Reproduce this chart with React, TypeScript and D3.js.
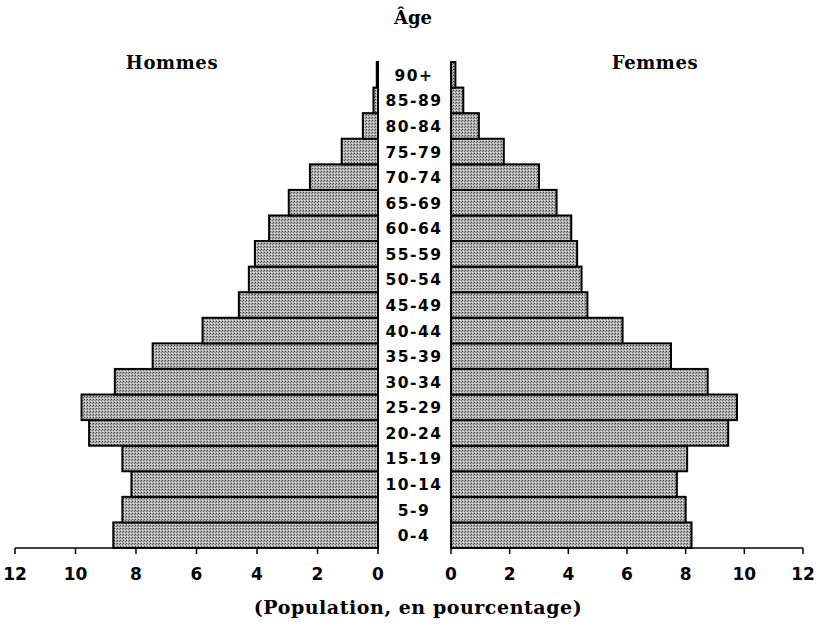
import React from 'react';
import * as d3 from 'd3';

// age groups, bottom to top
const ageGroups = ['0-4', '5-9', '10-14', '15-19', '20-24', '25-29', '30-34', '35-39', '40-44', '45-49', '50-54', '55-59', '60-64', '65-69', '70-74', '75-79', '80-84', '85-89', '90+'];
const hommes = [8.75, 8.45, 8.15, 8.45, 9.55, 9.8, 8.7, 7.45, 5.8, 4.6, 4.27, 4.07, 3.6, 2.95, 2.25, 1.2, 0.5, 0.15, 0.04];
const femmes = [8.2, 8.0, 7.7, 8.05, 9.45, 9.75, 8.75, 7.5, 5.85, 4.65, 4.45, 4.3, 4.1, 3.6, 3.0, 1.8, 0.95, 0.42, 0.15];
const ticks = [0, 2, 4, 6, 8, 10, 12];

export default function App() {
  const W = 827;
  const H = 627;
  const axisY = 548;
  const topY = 62;

  const xLeft = d3.scaleLinear().domain([0, 12]).range([378, 15]);
  const xRight = d3.scaleLinear().domain([0, 12]).range([451, 803]);
  const y = d3
    .scaleBand()
    .domain([...ageGroups].reverse())
    .range([topY, axisY])
    .padding(0);

  const serif = '"DejaVu Serif", "Liberation Serif", serif';
  const sans = '"DejaVu Sans", "Liberation Sans", sans-serif';

  return (
    <svg width={W} height={H} style={{ position: 'absolute', left: 0, top: 0, background: '#fff' }}>
      <defs>
        <pattern id="stip" width="3" height="3" patternUnits="userSpaceOnUse">
          <rect width="3" height="3" fill="#b4b4b4" />
          <rect x="0" y="0" width="1" height="1" fill="#3a3a3a" />
          <rect x="2" y="1" width="1" height="1" fill="#6a6a6a" />
          <rect x="1" y="2" width="1" height="1" fill="#e6e6e6" />
        </pattern>
      </defs>

      <text x={413} y={24} textAnchor="middle" fontFamily={serif} fontWeight="bold" fontSize={18}>Âge</text>
      <text x={172} y={69} textAnchor="middle" fontFamily={serif} fontWeight="bold" fontSize={18} letterSpacing={0.6}>Hommes</text>
      <text x={655} y={69} textAnchor="middle" fontFamily={serif} fontWeight="bold" fontSize={18} letterSpacing={0.6}>Femmes</text>

      {ageGroups.map((g, i) => (
        <g key={g}>
          <rect
            x={xLeft(hommes[i])}
            y={y(g)}
            width={xLeft(0) - xLeft(hommes[i])}
            height={y.bandwidth()}
            fill="url(#stip)"
            stroke="#000"
            strokeWidth={2}
          />
          <rect
            x={xRight(0)}
            y={y(g)}
            width={xRight(femmes[i]) - xRight(0)}
            height={y.bandwidth()}
            fill="url(#stip)"
            stroke="#000"
            strokeWidth={2}
          />
          <text
            x={414}
            y={(y(g) as number) + y.bandwidth() / 2 + 6}
            textAnchor="middle"
            fontFamily={sans}
            fontWeight="bold"
            fontSize={15.5}
            letterSpacing={1.5}
          >
            {g}
          </text>
        </g>
      ))}

      <line x1={xLeft(12)} x2={xLeft(0)} y1={axisY} y2={axisY} stroke="#000" strokeWidth={1.5} />
      <line x1={xRight(0)} x2={xRight(12)} y1={axisY} y2={axisY} stroke="#000" strokeWidth={1.5} />
      {ticks.map((t) => (
        <g key={t}>
          <line x1={xLeft(t)} x2={xLeft(t)} y1={axisY} y2={axisY + 6} stroke="#000" strokeWidth={1.5} />
          <text x={xLeft(t)} y={580} textAnchor="middle" fontFamily={sans} fontWeight="bold" fontSize={17}>{t}</text>
          <line x1={xRight(t)} x2={xRight(t)} y1={axisY} y2={axisY + 6} stroke="#000" strokeWidth={1.5} />
          <text x={xRight(t)} y={580} textAnchor="middle" fontFamily={sans} fontWeight="bold" fontSize={17}>{t}</text>
        </g>
      ))}

      <text x={418} y={614} textAnchor="middle" fontFamily={serif} fontWeight="bold" fontSize={19} letterSpacing={0.55}>(Population, en pourcentage)</text>
    </svg>
  );
}
